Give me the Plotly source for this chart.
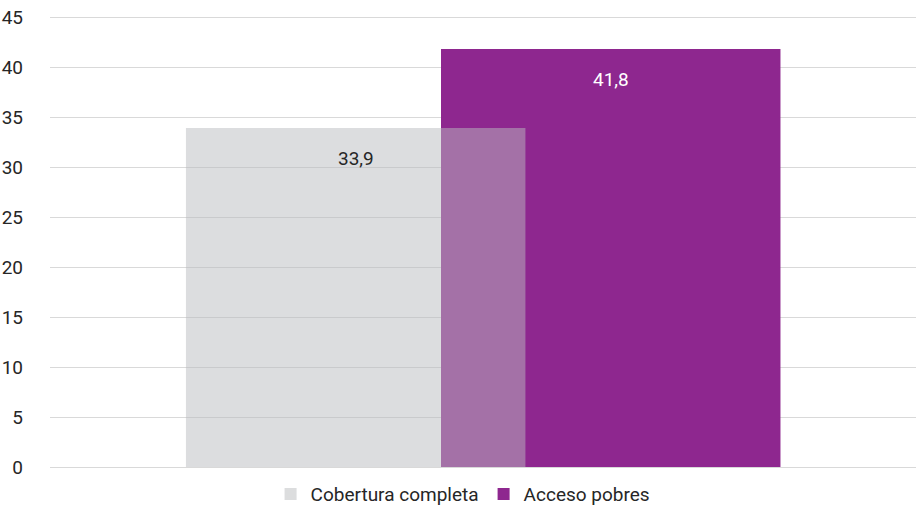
import plotly.graph_objects as go

categories = [""]
series_names = ["Cobertura completa", "Acceso pobres"]
values_cobertura = [33.9]
values_acceso = [41.8]
tick_vals = [0, 5, 10, 15, 20, 25, 30, 35, 40, 45]

FONT = "Roboto, Liberation Sans Narrow, sans-serif"
GREY = "rgb(186,188,191)"
PURPLE = "#8E278F"

fig = go.Figure()
fig.add_trace(go.Bar(
    x=categories, y=values_acceso, name=series_names[1],
    marker=dict(color=PURPLE, line=dict(width=0)),
    width=0.392, offset=-0.0485, hoverinfo="y",
))
fig.add_trace(go.Bar(
    x=categories, y=values_cobertura, name=series_names[0],
    marker=dict(color=GREY, line=dict(width=0)), opacity=0.5,
    width=0.392, offset=-0.343, hoverinfo="y",
))

# data labels
label_specs = [
    (values_cobertura[0], -0.343 + 0.196, "#262626"),
    (values_acceso[0], -0.0485 + 0.196, "white"),
]
for v, xc, col in label_specs:
    fig.add_annotation(
        x=xc, y=v, xref="x", yref="y", text=f"{v:.1f}".replace(".", ","),
        showarrow=False, yshift=-30, font=dict(family=FONT, size=19, color=col),
    )

fig.update_layout(
    width=916, height=507,
    margin=dict(l=50, r=0, t=14, b=40, autoexpand=False),
    paper_bgcolor="white", plot_bgcolor="white",
    barmode="overlay",
    separators=",.",
    font=dict(family=FONT, size=19, color="#262626"),
    showlegend=True,
    legend=dict(orientation="h", x=0.477, xanchor="center", y=-0.018, yanchor="top",
                traceorder="reversed", font=dict(family=FONT, size=19, color="#262626"),
                itemwidth=30, bgcolor="rgba(0,0,0,0)"),
    xaxis=dict(range=[-0.5, 0.5], showticklabels=False, showgrid=False, zeroline=False,
               showline=False, ticks="", automargin=False),
    yaxis=dict(range=[0, 45.3], tickvals=tick_vals, showgrid=True, gridcolor="#D9D9D9",
               gridwidth=1.3, zeroline=True, zerolinecolor="#D9D9D9", zerolinewidth=1.3,
               showline=False, ticks="", ticklabelstandoff=26, automargin=False,
               ticklabeloverflow="allow",
               tickfont=dict(family=FONT, size=19, color="#262626")),
)

# remove the page's default body margin so the figure sits at the window origin
fig.write_html("out.html", config={"displayModeBar": False},
               post_script="document.body.style.margin='0';")
